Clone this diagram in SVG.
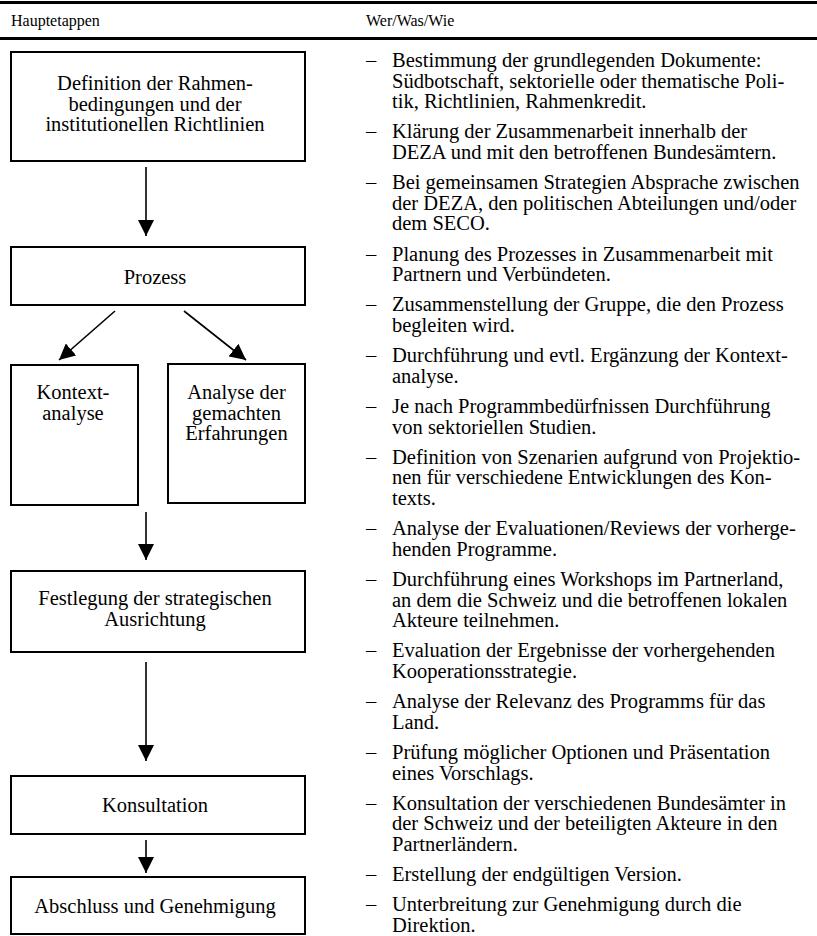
<svg xmlns="http://www.w3.org/2000/svg" width="817" height="936" viewBox="0 0 817 936">
<style>
text{font-family:"Liberation Serif","Times New Roman",serif;fill:#000}
.hd{font-size:16px}
.bx{font-size:20.5px;text-anchor:middle}
.it{font-size:20.5px}
.box{fill:#fff;stroke:#000;stroke-width:2}
.rule{stroke:#000;stroke-width:3}
.con line{stroke:#000;stroke-width:1.6;marker-end:url(#ah)}
</style>
<defs>
<marker id="ah" markerUnits="userSpaceOnUse" markerWidth="16" markerHeight="16" viewBox="0 0 16 16" refX="16" refY="8" orient="auto"><path d="M0,0 L16,8 L0,16 z" fill="#000"/></marker>
</defs>
<rect width="817" height="936" fill="#fff"/>
<line class="rule" x1="0" y1="2.5" x2="817" y2="2.5"/>
<line class="rule" x1="0" y1="38.5" x2="817" y2="38.5"/>
<text class="hd" x="11" y="26">Hauptetappen</text>
<text class="hd" x="366" y="26">Wer/Was/Wie</text>

<g id="n1"><rect class="box" x="11" y="52" width="294" height="109"/>
<text class="bx" x="155" y="90">Definition der Rahmen-</text>
<text class="bx" x="155" y="110.6">bedingungen und der</text>
<text class="bx" x="155" y="131.2">institutionellen Richtlinien</text></g>
<g id="n2"><rect class="box" x="11" y="247" width="294" height="58"/>
<text class="bx" x="155" y="283.5">Prozess</text></g>
<g id="n3"><rect class="box" x="11" y="365" width="127" height="140"/>
<text class="bx" x="73" y="399">Kontext-</text>
<text class="bx" x="73" y="419.6">analyse</text></g>
<g id="n4"><rect class="box" x="168" y="364" width="137" height="139"/>
<text class="bx" x="236.5" y="399">Analyse der</text>
<text class="bx" x="236.5" y="419.6">gemachten</text>
<text class="bx" x="236.5" y="440.2">Erfahrungen</text></g>
<g id="n5"><rect class="box" x="11" y="571" width="294" height="81"/>
<text class="bx" x="155" y="605">Festlegung der strategischen</text>
<text class="bx" x="155" y="625.6">Ausrichtung</text></g>
<g id="n6"><rect class="box" x="11" y="776" width="294" height="58"/>
<text class="bx" x="155" y="812">Konsultation</text></g>
<g id="n7"><rect class="box" x="11" y="877" width="294" height="57"/>
<text class="bx" x="155" y="913">Abschluss und Genehmigung</text></g>

<g id="connectors" class="con">
<line x1="146" y1="167" x2="146" y2="236"/>
<line x1="115" y1="311" x2="59" y2="360"/>
<line x1="184" y1="311" x2="246" y2="360"/>
<line x1="146" y1="512" x2="146" y2="560"/>
<line x1="146" y1="662" x2="146" y2="761"/>
<line x1="146" y1="840" x2="146" y2="873"/>
</g>

<g id="list" class="it">
<text x="366" y="67">–</text><text x="392" y="67">Bestimmung der grundlegenden Dokumente:</text>
<text x="392" y="87.6">Südbotschaft, sektorielle oder thematische Poli-</text>
<text x="392" y="108.2">tik, Richtlinien, Rahmenkredit.</text>
<text x="366" y="138.4">–</text><text x="392" y="138.4">Klärung der Zusammenarbeit innerhalb der</text>
<text x="392" y="159">DEZA und mit den betroffenen Bundesämtern.</text>
<text x="366" y="189.2">–</text><text x="392" y="189.2">Bei gemeinsamen Strategien Absprache zwischen</text>
<text x="392" y="209.8">der DEZA, den politischen Abteilungen und/oder</text>
<text x="392" y="230.4">dem SECO.</text>
<text x="366" y="260.6">–</text><text x="392" y="260.6">Planung des Prozesses in Zusammenarbeit mit</text>
<text x="392" y="281.2">Partnern und Verbündeten.</text>
<text x="366" y="311.4">–</text><text x="392" y="311.4">Zusammenstellung der Gruppe, die den Prozess</text>
<text x="392" y="332">begleiten wird.</text>
<text x="366" y="362.2">–</text><text x="392" y="362.2">Durchführung und evtl. Ergänzung der Kontext-</text>
<text x="392" y="382.8">analyse.</text>
<text x="366" y="413">–</text><text x="392" y="413">Je nach Programmbedürfnissen Durchführung</text>
<text x="392" y="433.6">von sektoriellen Studien.</text>
<text x="366" y="463.8">–</text><text x="392" y="463.8">Definition von Szenarien aufgrund von Projektio-</text>
<text x="392" y="484.4">nen für verschiedene Entwicklungen des Kon-</text>
<text x="392" y="505">texts.</text>
<text x="366" y="535.2">–</text><text x="392" y="535.2">Analyse der Evaluationen/Reviews der vorherge-</text>
<text x="392" y="555.8">henden Programme.</text>
<text x="366" y="586">–</text><text x="392" y="586">Durchführung eines Workshops im Partnerland,</text>
<text x="392" y="606.6">an dem die Schweiz und die betroffenen lokalen</text>
<text x="392" y="627.2">Akteure teilnehmen.</text>
<text x="366" y="657.4">–</text><text x="392" y="657.4">Evaluation der Ergebnisse der vorhergehenden</text>
<text x="392" y="678">Kooperationsstrategie.</text>
<text x="366" y="708.2">–</text><text x="392" y="708.2">Analyse der Relevanz des Programms für das</text>
<text x="392" y="728.8">Land.</text>
<text x="366" y="759">–</text><text x="392" y="759">Prüfung möglicher Optionen und Präsentation</text>
<text x="392" y="779.6">eines Vorschlags.</text>
<text x="366" y="809.8">–</text><text x="392" y="809.8">Konsultation der verschiedenen Bundesämter in</text>
<text x="392" y="830.4">der Schweiz und der beteiligten Akteure in den</text>
<text x="392" y="851">Partnerländern.</text>
<text x="366" y="881.2">–</text><text x="392" y="881.2">Erstellung der endgültigen Version.</text>
<text x="366" y="911.4">–</text><text x="392" y="911.4">Unterbreitung zur Genehmigung durch die</text>
<text x="392" y="932">Direktion.</text>
</g>
</svg>
